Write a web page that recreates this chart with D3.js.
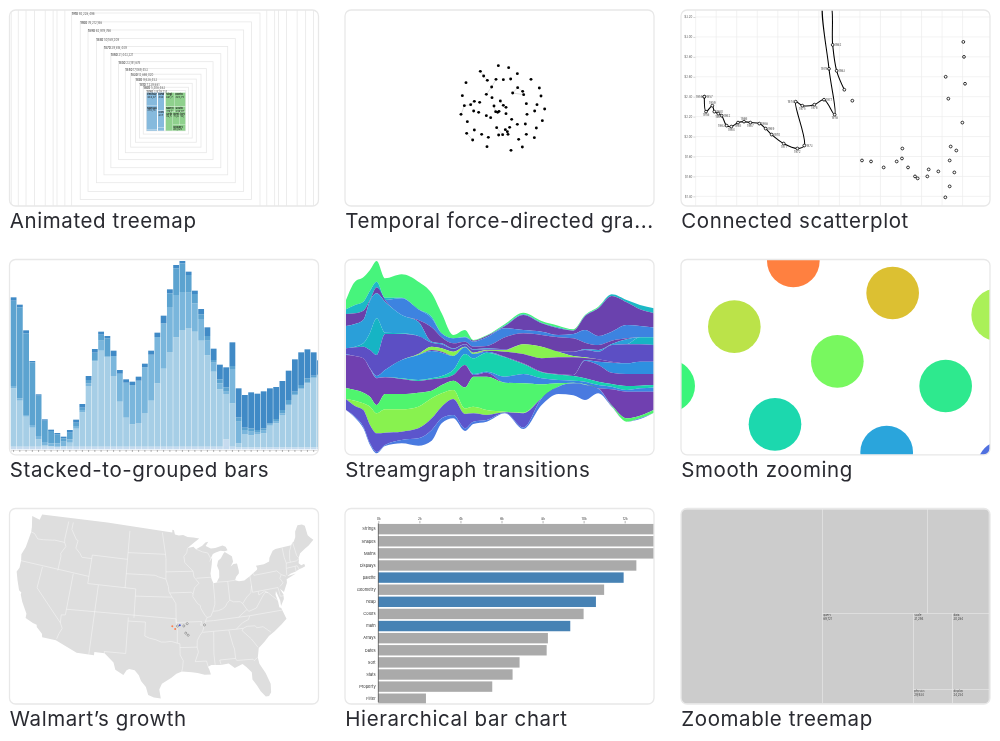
<!DOCTYPE html>
<html><head><meta charset="utf-8">
<script src="https://cdn.jsdelivr.net/npm/d3@7"></script>
<style>html,body{margin:0;background:#fff}svg{display:block}text{font-family:"Inter","Liberation Sans",sans-serif}</style>
</head><body><svg id="c" width="1000" height="741"></svg>
<script>
// ---------- gallery ----------
const titles=["Animated treemap","Temporal force-directed gra...","Connected scatterplot","Stacked-to-grouped bars","Streamgraph transitions","Smooth zooming","Walmart\u2019s growth","Hierarchical bar chart","Zoomable treemap"];
// ---------- animated treemap ----------
const censusYears=[1790,1800,1810,1820,1830,1840,1850,1860,1870,1880,1890,1900,1910,1920,1930,1940,1950,1960,1970,1980,1990];
const censusPop=[3929214,5308483,7239881,9638453,12866020,17069453,23191876,31443321,39818449,50189209,62979766,76212168,92228496,106021537,123202624,132164569,151325798,179323175,203302031,226542199,248709873];
const stateNames=["Pennsylvania","Massachusetts","Maine","New York","Connecticut","New Jersey","Virginia","North Carolina","Maryland","South Carolina","Georgia","Kentucky","Delaware","Rhode Island"];
const statePop=["434,373","378,787","96,540","340,120","237,946","184,139","691,737","393,751","319,728","249,073","82,548","73,677","59,096","68,825"];
const stateRegion=[0,0,0,0,0,0,1,1,1,1,1,1,1,1];
const stateX0=[440,440,440,474,474,474,497,525,497,525,497,519,540,519];
const stateX1=[472,472,472,493,493,493,525,557,525,557,519,540,557,557];
const stateY0=[278,318,388,278,332,382,278,278,320,320,336,336,336,375];
const stateY1=[318,388,393,332,382,393,320,320,336,336,393,375,375,393];
const regionColors=["#86badd","#8fd18d"];
// ---------- force graph ----------
const forceNodes=[[490,197],[521,203],[547,221],[436,214],[446,228],[457,241],[483,238],[505,239],[527,237],[588,238],[393,248],[470,261],[548,263],[563,274],[613,264],[533,279],[566,284],[618,288],[382,287],[454,283],[471,293],[418,304],[496,303],[407,314],[434,307],[388,317],[574,311],[606,314],[477,318],[505,316],[513,322],[629,327],[599,333],[416,333],[431,337],[482,335],[488,337],[492,334],[513,341],[576,343],[378,343],[454,347],[467,353],[530,358],[622,362],[397,365],[547,373],[571,372],[485,383],[524,382],[604,384],[418,390],[511,389],[517,395],[395,400],[440,403],[491,405],[503,404],[519,403],[574,403],[460,412],[598,413],[413,420],[551,418],[456,440],[562,441],[528,451]];
const forceLinks=[[3,4],[4,5],[11,19],[11,6],[15,16],[12,13],[13,16],[12,15],[25,40],[25,23],[23,21],[54,62],[48,57],[22,29],[28,35],[52,53],[53,58]];
// ---------- connected scatterplot ----------
const scatterYears=["1956","1957","1958","1959","1960","1961","1962","1963","1964","1965","1966","1967","1968","1969","1970","1971","1972","1973","1974","1975","1976","1977","1978","1979","1980","1981","1982","1983","1984"];
const scatterMiles=[4211,4211,4252,4406,4455,4552,4633,4755,4868,5031,5177,5331,5550,5705,5851,6143,6476,6646,6435,6597,6890,7125,7385,7247,7115,7275,7336,7433,7620];
const scatterPrice=[2.40,2.40,2.25,2.31,2.25,2.23,2.21,2.11,2.10,2.14,2.15,2.14,2.13,2.08,2.02,1.93,1.88,1.91,2.35,2.31,2.32,2.37,2.22,2.68,3.35,3.35,2.92,2.66,2.47];
const scatterSide=["left","right","bottom","top","right","bottom","right","left","bottom","bottom","top","bottom","right","right","right","bottom","bottom","right","left","bottom","bottom","right","bottom","left","","","right","right",""];
const laterMiles=[7815,8050,8270,8578,8895,9024,9033,9171,9341,9406,9641,9674,9909,10080,10185,10299,10185,10347,10210,10494,10153,10088,10559,10534,10518];
const laterPrice=[2.36,1.76,1.75,1.69,1.75,1.78,1.88,1.69,1.60,1.58,1.60,1.67,1.65,1.39,1.50,1.64,1.76,1.86,1.90,2.14,2.38,2.60,2.53,2.80,2.95];
const milesTicks=[4000,4500,5000,5500,6000,6500,7000,7500,8000,8500,9000,9500,10000,10500];
const priceTicks=[1.4,1.6,1.8,2.0,2.2,2.4,2.6,2.8,3.0,3.2];
// ---------- stacked bars (bottom layer first) ----------
const barPale=[8,8,8,8,8,8,8,8,8,8,8,8,8,8,8,8,8,8,8,8,8,8,8,8,8,8,8,8,8,8,8,8,8,8,30,8,6,6,6,6,6,6,6,6,6,6,6,6,6,6];
const barLight=[175,138,90,57,22,5,2,0,2,12,54,103,182,256,288,270,212,135,87,67,71,101,138,190,234,284,328,350,356,345,318,274,225,172,136,130,12,40,36,40,42,65,72,97,127,157,175,192,208,215];
const barMidLight=[7,7,5,8,10,9,8,10,13,10,8,7,8,2,30,0,60,84,105,118,127,137,138,139,136,135,127,114,106,85,65,44,27,18,7,103,65,12,11,4,8,5,5,5,3,3,2,2,2,2];
const barMid=[256,273,245,188,121,64,37,27,10,20,10,7,10,24,18,55,0,0,0,0,0,0,0,0,0,41,80,86,53,28,14,14,8,12,13,9,13,7,10,8,7,2,8,10,12,7,10,13,5,3];
const barDark=[10,8,9,4,4,4,4,4,5,8,9,11,12,11,9,7,16,11,10,10,12,11,12,13,23,12,10,7,10,10,16,26,34,44,60,71,87,98,108,109,111,105,96,87,88,97,98,87,70,41];
const barColors=["#c6dbef","#a6cee6","#7ab6dc","#5ba3d0","#3f8ac6"];
// ---------- streamgraph: running cut offsets per column, top to bottom ----------
const streamX=[33,60,85,105,125,150,200,250,290,320,355,390,415,455,510,565,620,670,715,750,790,830,875,915,960];
const streamColors=["#46f47b","#1fb9c6","#6b42ae","#3e83e0","#6a40aa","#2a9fd9","#18b4c4","#5c50c4","#88f24f","#6a3fb0","#2e90e0","#6a42b0","#16d2ae","#3a86e2","#6f3fb0","#50f56e","#88f24f","#5c55cc","#4a7ae0"];
const streamCuts=[
[150,178,192,192,192,228,295,295,313,313,313,313,313,313,315,414,447,447,480,480],
[95,165,190,190,190,222,290,292,318,318,318,318,318,318,318,420,452,468,500,503],
[82,155,182,182,182,210,280,290,325,325,325,325,325,325,325,428,460,480,530,535],
[60,122,150,150,150,152,248,300,355,355,355,355,355,355,357,440,470,525,580,585],
[33,95,112,112,112,130,205,315,378,378,378,384,385,385,385,465,490,550,606,610],
[85,143,150,150,150,155,248,252,360,360,360,382,382,382,382,432,478,548,585,588],
[73,143,145,145,195,195,250,252,330,330,330,385,385,387,387,432,478,545,570,580],
[95,178,178,178,210,215,258,258,312,315,315,390,390,393,393,428,470,535,565,587],
[130,200,205,205,232,275,278,278,290,300,303,385,385,388,388,422,445,505,540,572],
[190,250,250,250,262,280,283,283,295,305,308,378,378,385,385,405,430,470,505,520],
[255,265,265,265,280,295,297,297,305,318,318,360,360,375,375,392,420,447,495,505],
[240,260,262,262,275,282,283,283,290,292,292,312,312,345,345,412,475,492,535,543],
[270,272,272,275,290,298,300,300,308,312,312,325,325,372,375,380,470,490,515,522],
[256,258,258,262,288,295,297,298,300,302,305,308,308,365,368,380,480,495,510,515],
[222,226,228,235,262,298,298,298,300,305,320,320,322,380,398,398,485,487,488,490],
[188,193,195,240,250,283,283,283,283,312,340,340,342,372,400,400,488,490,533,537],
[213,218,220,245,255,290,290,290,290,325,365,365,367,385,403,403,445,445,445,465],
[227,232,235,255,262,305,305,305,305,322,372,372,374,390,400,400,410,410,410,432],
[238,241,242,252,265,305,305,305,318,322,375,375,378,392,398,398,400,400,400,436],
[195,197,199,240,278,298,300,300,322,324,330,332,385,395,403,403,404,404,404,450],
[170,173,175,258,285,300,305,305,328,328,335,345,395,405,415,415,415,415,416,430],
[133,133,138,245,272,282,285,285,335,335,338,368,402,410,418,466,468,468,469,470],
[150,150,157,225,265,268,283,283,340,340,340,372,408,420,425,505,515,515,515,515],
[165,165,178,228,262,262,262,283,335,335,335,372,407,415,425,497,505,505,505,507],
[175,175,190,233,262,262,262,285,335,335,335,372,405,412,425,478,487,487,487,487]];
// ---------- smooth zooming ----------
const zoomCircles=[[370,33],[668,129],[193,230],[983,194],[502,334],[-4,408],[827,408],[315,523],[650,606],[1000,650]];
const zoomColors=["#ff8040","#dcc030","#bbe34a","#aaf058","#78f85f","#3bf57a","#2ee98e","#1bd8ae","#29a5dc","#4f70e0"];
// ---------- Walmart map ----------
const usOutline=[[-124.7,48.4],[-123,48.2],[-122.8,49],[-95.15,49],[-95.15,49.38],[-94.8,49.3],[-94.6,48.7],[-93.8,48.55],[-92.9,48.6],[-92,48.3],[-90.8,48.2],[-89.6,48],[-90.5,47.6],[-92.1,46.75],[-90.9,46.9],[-90.4,46.55],[-89.1,46.95],[-88.4,47.4],[-87.8,47.47],[-88.4,46.9],[-87.4,46.5],[-86.5,46.5],[-85,46.75],[-84.4,46.5],[-84.1,46],[-84.7,45.9],[-85.5,46.05],[-86.5,45.85],[-87.1,45.7],[-87.6,45.1],[-88,44.55],[-87.3,45.2],[-87.5,44.3],[-87.9,43],[-87.8,42.3],[-87.5,41.65],[-86.9,41.72],[-86.3,42.4],[-86.2,43.3],[-86.5,44],[-86.2,44.7],[-85.6,45],[-85,45.6],[-84.7,45.78],[-83.4,45.1],[-83.3,44.3],[-83.9,43.7],[-83.3,44],[-82.6,44],[-82.45,43],[-82.5,42.6],[-83.1,42.2],[-83.4,41.73],[-82.7,41.5],[-81.7,41.5],[-80.5,42],[-79,42.7],[-78.9,42.9],[-79.05,43.27],[-77.5,43.27],[-76.4,43.5],[-76.2,44],[-75.3,44.85],[-74.7,45],[-71.5,45],[-71.1,45.3],[-70.8,45.4],[-70.3,45.9],[-70,46.7],[-69.2,47.45],[-68.3,47.35],[-67.8,47.07],[-67.8,45.7],[-67.45,45.3],[-67,44.85],[-68.2,44.3],[-69.1,44],[-70.2,43.6],[-70.7,43.05],[-70.8,42.7],[-71,42.3],[-70.6,41.95],[-70,42.05],[-69.95,41.65],[-70.6,41.55],[-71.2,41.5],[-71.9,41.3],[-72.9,41.2],[-73.7,40.95],[-72,41.05],[-73.9,40.55],[-74,40.1],[-74.9,38.95],[-75.5,39.5],[-75.1,38.6],[-75.2,38],[-75.95,37.15],[-75.9,37.9],[-76.3,39.3],[-76.5,38.8],[-76.3,37.9],[-76.3,37],[-76,36.85],[-75.5,35.25],[-76.5,34.65],[-77.9,33.9],[-79,33.4],[-79.9,32.7],[-81,32],[-81.4,30.7],[-81.3,29.8],[-80.55,28.4],[-80.05,26.8],[-80.2,25.6],[-80.6,25.15],[-81.1,25.15],[-81.75,26],[-82.2,26.9],[-82.75,27.8],[-82.7,28.8],[-83.4,29.6],[-84,30.1],[-85.3,29.7],[-86.2,30.4],[-87.5,30.3],[-88.1,30.35],[-89,30.4],[-89.6,30.2],[-89.4,29.8],[-89.2,29.1],[-90.2,29.1],[-91.3,29.4],[-92.2,29.55],[-93.8,29.7],[-94.7,29.4],[-95.5,28.85],[-97,28],[-97.4,27.2],[-97.15,25.95],[-98.2,26.05],[-99.1,26.4],[-99.5,27.5],[-100.3,28.3],[-100.7,29.1],[-101.4,29.77],[-102.3,29.88],[-102.7,29.7],[-103.15,28.98],[-104.5,29.65],[-104.9,30.6],[-106.5,31.75],[-108.2,31.78],[-108.2,31.33],[-111.07,31.33],[-114.8,32.5],[-117.12,32.53],[-117.3,33],[-118.4,33.75],[-118.5,34.03],[-119.2,34.15],[-120.6,34.55],[-120.65,35.15],[-121.9,36.6],[-122.5,37.5],[-122.5,37.8],[-123,38],[-123.8,39.3],[-124.4,40.4],[-124.1,41],[-124.2,42],[-124.5,42.85],[-124.1,44],[-123.95,46.2],[-124.1,46.9],[-124.7,48.4]];
const stateLines=[
[[-124,46.25],[-123.2,46.15],[-122.3,45.55],[-121.2,45.65],[-119.3,45.93],[-118.98,46],[-116.92,46]],
[[-117.03,49],[-117.04,46.4],[-116.92,46],[-116.5,45.5],[-117.2,44.4],[-117.03,44],[-117.03,42]],
[[-124.2,42],[-111.05,42]],[[-120,42],[-120,39],[-114.63,35]],[[-114.63,35],[-114.14,34.3],[-114.5,33.5],[-114.72,32.72]],
[[-114.04,42],[-114.04,36.2],[-114.75,36.1],[-114.63,35]],[[-114.04,37],[-94.62,37]],[[-109.05,37],[-109.05,31.33]],[[-109.05,41],[-109.05,37]],
[[-111.05,45],[-111.05,41],[-102.05,41]],[[-111.05,45],[-104.05,45]],[[-104.05,45],[-104.05,41]],
[[-116.05,49],[-116.05,48],[-114.7,46.7],[-114.35,46.65],[-114.5,45.55],[-113.45,44.9],[-113,44.45],[-111.05,44.5]],
[[-104.05,49],[-104.05,45]],[[-104.05,45.94],[-96.56,45.94]],[[-104.05,43],[-98.5,43],[-97.9,42.8],[-96.45,42.5]],
[[-102.05,41],[-102.05,37]],[[-102.05,40],[-95.3,40]],[[-103.04,37],[-103.04,32],[-106.6,32],[-106.5,31.75]],
[[-103.04,36.5],[-100,36.5],[-100,34.56],[-99.2,34.3],[-98.1,34.1],[-97.2,33.8],[-96.5,33.8],[-95.5,33.9],[-94.48,33.64]],
[[-94.62,37],[-94.62,36.5],[-94.43,35.4],[-94.48,33.64]],[[-94.48,33.64],[-94.04,33.55],[-94.04,31.99],[-93.55,31.2],[-93.7,30.1],[-93.85,29.7]],
[[-94.04,33.02],[-91.17,33]],[[-95.3,40],[-94.62,39.1],[-94.62,36.5]],[[-94.62,36.5],[-90.15,36.5],[-90.37,36],[-89.7,36]],
[[-97.23,49],[-96.56,46],[-96.45,45.3],[-96.45,42.5]],[[-96.45,43.5],[-91.22,43.5]],[[-96.45,42.5],[-96,41.5],[-95.85,40.7],[-95.3,40]],
[[-95.77,40.58],[-91.73,40.61],[-91.42,40.38]],[[-92.1,46.75],[-92.3,46.1],[-92.9,45.6],[-92.75,44.75],[-91.22,43.5]],
[[-91.22,43.5],[-91.1,42.7],[-90.2,41.8],[-91.1,41.2],[-91.42,40.38],[-91.5,40],[-90.7,39],[-90.2,38.7],[-90.2,38.4],[-89.5,37.3],[-89.15,37],[-89.5,36.5],[-89.7,36],[-90.1,35.1],[-90.6,34.6],[-91.1,33.9],[-91.17,33],[-91,32.3],[-91.6,31],[-89.75,31],[-89.55,30.2]],
[[-90.65,42.5],[-87.8,42.5]],[[-90.4,46.55],[-89.1,46.1],[-88.1,45.9],[-87.6,45.1]],[[-87.53,41.7],[-87.53,39.3],[-87.6,38.7],[-88.05,37.8]],
[[-89.15,37],[-88.5,37.1],[-88.05,37.8],[-87.1,37.8],[-86.3,38],[-85.7,38.3],[-85.4,38.7],[-84.82,39.1],[-84.2,38.8],[-83,38.7],[-82.6,38.4]],
[[-84.82,39.1],[-84.8,41.7]],[[-87.2,41.76],[-84.8,41.7],[-83.45,41.73]],[[-89.5,36.5],[-88.05,36.5],[-83.67,36.6],[-81.68,36.59],[-75.9,36.55]],
[[-83.67,36.6],[-82,37.5],[-82.6,38.4]],[[-81.68,36.59],[-82,36.1],[-83.1,35.77],[-84.32,35]],[[-90.1,35],[-84.32,35],[-83.1,35],[-82.4,35.2],[-81,35.1],[-80.8,34.8],[-79.7,34.8],[-78.55,33.87]],
[[-83.1,35],[-83.35,34.7],[-82,33.4],[-81.1,32.1]],[[-85.6,34.98],[-85.18,32.87],[-85,32.3],[-85,31]],[[-84.86,30.7],[-82.2,30.57],[-82.05,30.36],[-81.45,30.72]],
[[-87.6,31],[-85,31],[-84.86,30.7]],[[-87.6,31],[-87.45,30.35]],[[-88.2,35],[-88.47,31.9],[-88.4,30.3]],
[[-82,37.5],[-81.7,37.2],[-80.3,37.5],[-79,38.8],[-78.3,39.4],[-77.75,39.3]],[[-80.52,42],[-80.52,39.72],[-75.79,39.72]],[[-80.52,40.64],[-80.85,39.7],[-81.7,39.2],[-82.6,38.4]],
[[-79.48,39.72],[-79.48,39.2],[-78.3,39.6],[-77.75,39.3],[-77.1,38.7],[-76.3,38]],[[-79.76,42.27],[-79.76,42],[-75.35,42],[-74.7,41.36],[-73.9,41]],[[-74.7,41.36],[-75.1,40.9],[-74.7,40.2],[-75.4,39.8]],
[[-75.79,39.72],[-75.7,38.46],[-75.05,38.45]],[[-73.35,45],[-73.4,43.6],[-73.27,42.75]],[[-73.7,41.1],[-73.5,42.05],[-73.27,42.75],[-71.3,42.7],[-70.8,42.85]],[[-73.5,42.05],[-71.38,42.02],[-71.2,41.5]],
[[-71.8,42.02],[-71.85,41.32]],[[-71.5,45],[-72.05,44.3],[-72.45,43.2],[-72.46,42.73]],[[-71.08,45.3],[-70.98,43.4],[-70.7,43.07]]];
const storeLon=[-95.3,-94.8,-94.0,-94.4,-93.3,-92.7,-93.0,-92.6,-89.7];
const storeLat=[36.0,35.6,36.1,36.0,36.0,36.3,35.0,34.7,36.0];
const storeColors=["#ff7f50","#ff7f50","#3f51d8","#888","#888","#888","#888","#888","#888"];
// ---------- hierarchical bars ----------
const hierNames=["Strings","Shapes","Maths","Displays","palette","Geometry","heap","Colors","math","Arrays","Dates","Sort","Stats","Property","Filter"];
const hierValues=[22400,21400,20000,12570,11950,11000,10600,10000,9350,8260,8200,6880,6540,5550,2320];
const hierHasKids=[1,1,1,1,0,1,0,1,0,1,1,1,1,1,1];
const hierTicks=[0,2000,4000,6000,8000,10000,12000];
// ---------- zoomable treemap ----------
const zoomTreeNames=["","","","query","scale","physics","data","display"];
const zoomTreeLabels=["","","","89,721","31,294","29,934","30,284","24,254"];
const zoomTreeAreas=[246768,98280,57720,73710,26904,4956,24852,4578];

const svg=d3.select("#c");
const defs=svg.append("defs");
[["soft",0.42],["softer",0.22]].forEach(([id,s])=>defs.append("filter").attr("id",id).attr("x","-5%").attr("y","-5%").attr("width","110%").attr("height","110%").append("feGaussianBlur").attr("stdDeviation",s));
const colX=[9.5,345,681],rowY=[10,259.5,508.5],panelW=309,panelH=[196,195.3,195.5];
const cropX=[0,335,670],cropY=[0,250,500];
const panels=titles.map((t,i)=>{
  const c=i%3,r=Math.floor(i/3);
  defs.append("clipPath").attr("id","cp"+i).append("rect").attr("x",colX[c]).attr("y",rowY[r]).attr("width",panelW).attr("height",panelH[r]).attr("rx",6);
  const g=svg.append("g").attr("filter","url(#soft)").append("g").attr("clip-path",`url(#cp${i})`);
  g.append("rect").attr("x",colX[c]).attr("y",rowY[r]).attr("width",panelW).attr("height",panelH[r]).attr("fill","#fff");
  return {g,x:d3.scaleLinear().domain([0,990]).range([cropX[c],cropX[c]+330]),y:d3.scaleLinear().domain([0,720]).range([cropY[r],cropY[r]+240])};
});

// panel 0: animated treemap
(function(){
  const {g,x,y}=panels[0];
  const w=d3.scaleSqrt().domain([0,92228496]).range([0,x(565)-x(0)]);
  const h=d3.scaleSqrt().domain([0,92228496]).range([0,y(586)-y(0)]);
  const cx=x(497.5),cy=y(332);
  const idx=d3.range(censusYears.length).reverse();
  g.selectAll("rect.f").data(idx).join("rect").attr("class","f").attr("x",i=>cx-w(censusPop[i])/2).attr("y",i=>cy-h(censusPop[i])/2).attr("width",i=>w(censusPop[i])).attr("height",i=>h(censusPop[i])).attr("fill","none").attr("stroke","#e8e8e8").attr("stroke-width",0.8);
  const fmt=d3.format(",");
  const lab=g.selectAll("text.f").data(idx.filter(i=>censusPop[i]<=92228496)).join("text").attr("class","f").attr("x",i=>cx-w(censusPop[i])/2).attr("y",i=>cy-h(censusPop[i])/2+2.2).attr("font-size",2.9).attr("fill","#666");
  lab.append("tspan").attr("font-weight",700).text(i=>censusYears[i]+" ");
  lab.append("tspan").text(i=>fmt(censusPop[i]));
  const s=d3.range(stateNames.length);
  const fit=i=>Math.max(2,Math.floor((stateX1[i]-stateX0[i])/5.2));
  g.selectAll("rect.s").data(s).join("rect").attr("class","s").attr("x",i=>x(stateX0[i])).attr("y",i=>y(stateY0[i])).attr("width",i=>x(stateX1[i])-x(stateX0[i])-0.3).attr("height",i=>y(stateY1[i])-y(stateY0[i])-0.3).attr("fill",i=>regionColors[stateRegion[i]]);
  const roomy=s.filter(i=>stateY1[i]-stateY0[i]>=15);
  const t=g.selectAll("text.s").data(roomy).join("text").attr("class","s").attr("font-size",2.6).attr("fill","#222");
  t.append("tspan").attr("x",i=>x(stateX0[i])+0.5).attr("y",i=>y(stateY0[i])+2.6).attr("font-weight",700).text(i=>stateNames[i].slice(0,fit(i)));
  t.append("tspan").attr("x",i=>x(stateX0[i])+0.5).attr("y",i=>y(stateY0[i])+5.1).text(i=>statePop[i].slice(0,fit(i)));
})();

// panel 1: force graph
(function(){
  const {g,x,y}=panels[1];
  g.selectAll("line").data(forceLinks).join("line").attr("x1",d=>x(forceNodes[d[0]][0])).attr("y1",d=>y(forceNodes[d[0]][1])).attr("x2",d=>x(forceNodes[d[1]][0])).attr("y2",d=>y(forceNodes[d[1]][1])).attr("stroke","#bbb").attr("stroke-width",0.5);
  g.selectAll("circle").data(forceNodes).join("circle").attr("cx",d=>x(d[0])).attr("cy",d=>y(d[1])).attr("r",1.45).attr("fill","#000");
})();

// panel 2: connected scatterplot
(function(){
  const {g,x,y}=panels[2];
  const xs=d3.scaleLinear().domain([4000,10500]).range([x(77),x(877.8)]);
  const ys=d3.scaleLinear().domain([1.4,3.2]).range([y(589),y(51)]);
  g.append("g").selectAll("line").data(milesTicks).join("line").attr("x1",xs).attr("x2",xs).attr("y1",rowY[0]).attr("y2",rowY[0]+196).attr("stroke","#ececec").attr("stroke-width",0.7);
  g.append("g").selectAll("line").data(priceTicks).join("line").attr("x1",x(76)).attr("x2",x(960)).attr("y1",ys).attr("y2",ys).attr("stroke","#ececec").attr("stroke-width",0.7);
  const ax=g.append("g").attr("transform",`translate(${x(76)},0)`).call(d3.axisLeft(ys).tickValues(priceTicks).tickFormat(d3.format("$.2f")).tickSize(2).tickPadding(1));
  ax.select(".domain").remove();
  ax.selectAll("text").attr("font-size",2.9).attr("fill","#666").style("font-family","Inter");
  ax.selectAll("line").attr("stroke","#999").attr("stroke-width",0.4);
  const i=d3.range(scatterYears.length);
  g.append("path").attr("d",d3.line().x(k=>xs(scatterMiles[k])).y(k=>ys(scatterPrice[k])).curve(d3.curveCatmullRom)(i)).attr("fill","none").attr("stroke","#000").attr("stroke-width",1.05);
  const all=i.map(k=>[scatterMiles[k],scatterPrice[k]]).concat(laterMiles.map((m,k)=>[m,laterPrice[k]]));
  g.append("g").selectAll("circle").data(all).join("circle").attr("cx",d=>xs(d[0])).attr("cy",d=>ys(d[1])).attr("r",1.4).attr("fill","#fff").attr("stroke","#000").attr("stroke-width",0.8);
  const off={left:[-1.8,1,"end"],right:[1.8,1,"start"],top:[0,-2,"middle"],bottom:[0,4,"middle"]};
  g.append("g").selectAll("text").data(i.filter(k=>scatterSide[k])).join("text").attr("x",k=>xs(scatterMiles[k])+off[scatterSide[k]][0]).attr("y",k=>ys(scatterPrice[k])+off[scatterSide[k]][1]).attr("text-anchor",k=>off[scatterSide[k]][2]).attr("font-size",3).attr("fill","#555").text(k=>scatterYears[k]);
})();

// panel 3: stacked bars
(function(){
  const {g,x,y}=panels[3];
  const keys=[barPale,barLight,barMidLight,barMid,barDark];
  const table=barPale.map((_,i)=>Object.fromEntries(keys.map((a,k)=>[k,a[i]])));
  const series=d3.stack().keys([0,1,2,3,4])(table);
  const xb=d3.scaleBand().domain(d3.range(barPale.length)).range([x(32),x(32+50*18.73)]).paddingInner(0.07).paddingOuter(0);
  const yb=d3.scaleLinear().domain([0,565]).range([y(598),y(33)]);
  g.selectAll("g.l").data(series).join("g").attr("class","l").attr("fill",(d,i)=>barColors[i]).selectAll("rect").data(d=>d).join("rect").attr("x",(d,i)=>xb(i)).attr("y",d=>yb(d[1])).attr("width",xb.bandwidth()).attr("height",d=>yb(d[0])-yb(d[1]));
  const ax=g.append("g").attr("transform",`translate(0,${y(600)})`).call(d3.axisBottom(xb).tickSize(2).tickFormat(""));
  ax.select(".domain").attr("stroke","#bbb").attr("stroke-width",0.4);
  ax.selectAll("line").attr("stroke","#444").attr("stroke-width",0.4);
})();

// panel 4: streamgraph
(function(){
  const {g,x,y}=panels[4];
  const xs=d3.scaleLinear().domain([33,960]).range([x(33),x(960)]);
  const ys=d3.scaleLinear().domain([0,720]).range([y(0),y(720)]);
  const area=d3.area().x(d=>xs(d.x)).y0(d=>ys(d.a)).y1(d=>ys(d.b)).curve(d3.curveMonotoneX);
  g.selectAll("path").data(streamColors).join("path").attr("fill",c=>c).attr("d",(c,k)=>area(streamX.map((v,j)=>({x:v,a:streamCuts[j][k],b:streamCuts[j][k+1]}))));
})();

// panel 5: circles
(function(){
  const {g,x,y}=panels[5];
  const r=d3.scaleLinear().domain([0,79]).range([0,x(79)-x(0)]);
  g.selectAll("circle").data(zoomCircles).join("circle").attr("cx",d=>x(d[0])).attr("cy",d=>y(d[1])).attr("r",r(79)).attr("fill",(d,i)=>zoomColors[i]);
})();

// panel 6: map
(function(){
  const {g,x,y}=panels[6];
  const land={type:"Polygon",coordinates:[usOutline]};
  const proj=d3.geoAlbers().fitExtent([[x(50),y(42)],[x(940),y(597)]],land);
  const path=d3.geoPath(proj);
  g.append("path").attr("d",path(land)).attr("fill","#dedede");
  g.append("path").attr("d",path({type:"MultiLineString",coordinates:stateLines})).attr("fill","none").attr("stroke","#fff").attr("stroke-width",0.42);
  g.selectAll("circle").data(storeLon).join("circle").attr("cx",(d,i)=>proj([d,storeLat[i]])[0]).attr("cy",(d,i)=>proj([d,storeLat[i]])[1]).attr("r",1).attr("fill",(d,i)=>storeColors[i]==="#888"?"#fff":storeColors[i]).attr("stroke",(d,i)=>storeColors[i]==="#888"?"#555":"none").attr("stroke-width",0.5);
})();

// panel 7: hierarchical bars
(function(){
  const {g,x,y}=panels[7];
  const xb=d3.scaleLinear().domain([0,12000]).range([x(130),x(869)]);
  const yb=d3.scaleBand().domain(hierNames).range([y(73)-0.4,y(73+36*15)-0.4]).paddingInner(0.14).paddingOuter(0);
  g.selectAll("rect.b").data(hierNames).join("rect").attr("class","b").attr("x",xb(0)).attr("y",d=>yb(d)).attr("width",(d,i)=>xb(hierValues[i])-xb(0)).attr("height",yb.bandwidth()).attr("fill",(d,i)=>hierHasKids[i]?"#aaa":"#4682b4");
  const ax=g.append("g").attr("transform",`translate(0,${y(70)})`).call(d3.axisTop(xb).tickValues(hierTicks).tickFormat(d=>d/1000+"k").tickSize(2.4).tickPadding(1));
  ax.select(".domain").remove();
  ax.selectAll("text").attr("font-size",3.2).attr("fill","#333").style("font-family","Inter");
  ax.selectAll("line").attr("stroke","#444").attr("stroke-width",0.4);
  g.append("line").attr("x1",xb(0)).attr("x2",xb(0)).attr("y1",y(70)).attr("y2",y(607)).attr("stroke","#222").attr("stroke-width",0.6);
  g.selectAll("text.n").data(hierNames).join("text").attr("class","n").attr("x",x(122)).attr("y",d=>yb(d)+yb.bandwidth()/2+1.3).attr("text-anchor","end").attr("font-size",4).attr("fill","#333").text(d=>d);
})();

// panel 8: zoomable treemap
(function(){
  const {g,x,y}=panels[8];
  const L=i=>({i,value:zoomTreeAreas[i]});
  const root=d3.hierarchy({children:[L(0),{children:[{children:[L(1),L(2)]},{children:[L(3),{children:[L(4),L(5)]},{children:[L(6),L(7)]}]}]}]}).sum(d=>d.value||0);
  d3.treemap().tile(d3.treemapSliceDice).size([x(957)-x(33),y(610)-y(28)])(root);
  const lv=root.leaves();
  const tx=x(33),ty=y(28);
  g.append("rect").attr("x",x(0)).attr("y",y(0)).attr("width",330).attr("height",220).attr("fill","#ccc");
  g.selectAll("rect.t").data(lv).join("rect").attr("class","t").attr("x",d=>tx+d.x0).attr("y",d=>ty+d.y0).attr("width",d=>d.x1-d.x0).attr("height",d=>d.y1-d.y0).attr("fill","#ccc").attr("stroke","#e6e6e6").attr("stroke-width",0.6);
  const t=g.selectAll("text.t").data(lv.filter(d=>zoomTreeNames[d.data.i])).join("text").attr("class","t").attr("font-size",2.9).attr("fill","#444");
  t.append("tspan").attr("x",d=>tx+d.x0+0.8).attr("y",d=>ty+d.y0+3).text(d=>zoomTreeNames[d.data.i]);
  t.append("tspan").attr("x",d=>tx+d.x0+0.8).attr("y",d=>ty+d.y0+6.4).text(d=>zoomTreeLabels[d.data.i]);
})();

// borders and titles
titles.forEach((t,i)=>{
  const c=i%3,r=Math.floor(i/3);
  svg.append("rect").attr("x",colX[c]).attr("y",rowY[r]).attr("width",panelW).attr("height",panelH[r]).attr("rx",6).attr("fill","none").attr("stroke","#e8e8e8").attr("stroke-width",1.3);
  svg.append("text").attr("x",colX[c]+0.3).attr("y",rowY[r]+217.5).attr("font-size",20.5).attr("letter-spacing",0.58).attr("fill","#2a2c31").attr("filter","url(#softer)").text(t);
});
</script></body></html>
